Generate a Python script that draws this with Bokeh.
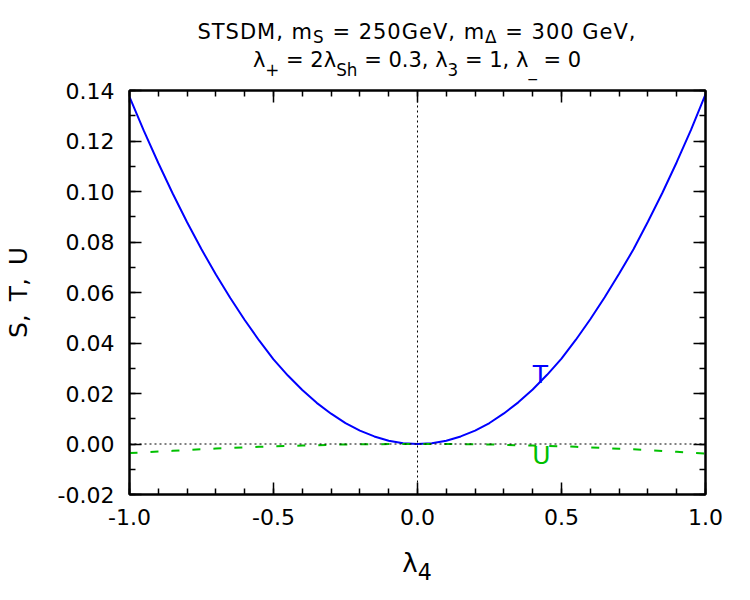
from bokeh.plotting import figure
from bokeh.layouts import column
from bokeh.models import (Range1d, SingleIntervalTicker, LinearAxis, PrintfTickFormatter,
                          CustomJSTickFormatter, Span, Label, ColumnDataSource, Div)
from bokeh.embed import file_html
from bokeh.resources import INLINE

# ---------------- data ----------------
lam4 = [-1.00, -0.95, -0.90, -0.85, -0.80, -0.75, -0.70, -0.65, -0.60, -0.55,
        -0.50, -0.45, -0.40, -0.35, -0.30, -0.25, -0.20, -0.15, -0.10, -0.05,
        0.00, 0.05, 0.10, 0.15, 0.20, 0.25, 0.30, 0.35, 0.40, 0.45,
        0.50, 0.55, 0.60, 0.65, 0.70, 0.75, 0.80, 0.85, 0.90, 0.95, 1.00]
T_vals = [0.1375, 0.1240, 0.1113, 0.0992, 0.0878, 0.0771, 0.0671, 0.0578, 0.0491, 0.0410,
          0.0335, 0.0271, 0.0214, 0.0163, 0.0120, 0.0083, 0.0053, 0.0030, 0.0013, 0.0003,
          0.0000, 0.0003, 0.0013, 0.0030, 0.0053, 0.0083, 0.0121, 0.0165, 0.0216, 0.0274,
          0.0338, 0.0413, 0.0494, 0.0581, 0.0674, 0.0771, 0.0880, 0.0994, 0.1116, 0.1245, 0.1385]
U_vals = [-0.0036, -0.0033, -0.0030, -0.0027, -0.0024, -0.0021, -0.0018, -0.0016, -0.0013, -0.0011,
          -0.0009, -0.0008, -0.0006, -0.0005, -0.0003, -0.0002, -0.0001, -0.0001, 0.0000, 0.0000,
          0.0000, 0.0000, 0.0000, -0.0001, -0.0001, -0.0002, -0.0003, -0.0005, -0.0006, -0.0008,
          -0.0009, -0.0011, -0.0014, -0.0016, -0.0019, -0.0021, -0.0024, -0.0028, -0.0031, -0.0034, -0.0038]

x_ticks_interval = 0.5
y_ticks_interval = 0.02
SUB1 = '<sub style="font-size:0.8em;line-height:0;vertical-align:-4px">{}</sub>'
SUB2 = '<sub style="font-size:0.8em;line-height:0;vertical-align:-9px">{}</sub>'
title_html = ('<span style="letter-spacing:1px">STSDM, m' + SUB1.format("S") + " = 250GeV, m"
              + SUB1.format("\u0394") + " = 300 GeV,</span><br>"
              "\u03bb" + SUB2.format("+") + " = 2\u03bb" + SUB2.format("Sh") + " = 0.3, \u03bb" + SUB2.format("3")
              + " = 1, \u03bb" + SUB2.format("_") + " = 0")
x_label_html = "\u03bb" + '<sub style="font-size:0.85em;line-height:0;vertical-align:-8px">4</sub>'
y_label = "S,\u2009 T,\u2009 U"

# ---------------- layout ----------------
W = 750
TOP_H = 76          # title strip
MAIN_TOP = 14       # border above the frame inside main figure
FL, FW, FH = 129, 576, 404
MAIN_BOTTOM = 56
BOT_H = 600 - TOP_H - MAIN_TOP - FH - MAIN_BOTTOM
XMIN, XMAX, YMIN, YMAX = -1.0, 1.0, -0.02, 0.14
FONT = "DejaVu Sans"
CX = FL + FW / 2     # horizontal centre of the frame

def html_strip(html, height, size, line_h, pad_top):
    inner = (f'<div style="margin-left:{2 * CX - W:.0f}px;width:{2 * (W - CX):.0f}px;text-align:center;'
             f'font-family:\'{FONT}\';font-size:{size}px;line-height:{line_h}px;color:black;'
             f'padding-top:{pad_top}px;white-space:nowrap;overflow:visible">{html}</div>')
    return Div(text=inner, width=W, height=height, margin=(0, 0, 0, 0),
               styles={"overflow": "visible"})

top = html_strip(title_html, TOP_H, 21, 28, 18)

p = figure(width=W, height=MAIN_TOP + FH + MAIN_BOTTOM, output_backend="svg", toolbar_location=None,
           x_range=Range1d(XMIN, XMAX), y_range=Range1d(YMIN, YMAX),
           min_border_left=FL, min_border_top=MAIN_TOP,
           min_border_right=W - FL - FW, min_border_bottom=MAIN_BOTTOM)
p.xgrid.visible = False
p.ygrid.visible = False
p.outline_line_color = "black"
p.outline_line_width = 2
p.background_fill_color = "white"
p.border_fill_color = None

def style_axis(ax, size="22px"):
    ax.major_tick_in = 12
    ax.major_tick_out = 0
    ax.minor_tick_in = 6
    ax.minor_tick_out = 0
    ax.axis_line_width = 2
    ax.axis_line_color = "black"
    ax.major_tick_line_color = "black"
    ax.minor_tick_line_color = "black"
    ax.major_tick_line_width = 1.5
    ax.minor_tick_line_width = 1.5
    ax.major_label_text_font = FONT
    ax.major_label_text_font_size = size
    ax.major_label_text_color = "black"
    ax.axis_label_text_font = FONT
    ax.axis_label_text_font_style = "normal"
    ax.axis_label_text_color = "black"

p.xaxis[0].ticker = SingleIntervalTicker(interval=x_ticks_interval, num_minor_ticks=5)
p.xaxis[0].formatter = PrintfTickFormatter(format="%.1f")
p.yaxis[0].ticker = SingleIntervalTicker(interval=y_ticks_interval, num_minor_ticks=2)
p.yaxis[0].formatter = PrintfTickFormatter(format="%.2f")
style_axis(p.xaxis[0])
style_axis(p.yaxis[0])
p.xaxis[0].major_label_standoff = 14
p.yaxis[0].major_label_standoff = 15
p.yaxis[0].axis_label = y_label
p.yaxis[0].axis_label_text_font_size = "25px"
p.yaxis[0].axis_label_standoff = 22

# mirror axes (ticks only, no labels)
for loc, interval, nminor in (("right", y_ticks_interval, 2), ("above", x_ticks_interval, 5)):
    ax = LinearAxis(ticker=SingleIntervalTicker(interval=interval, num_minor_ticks=nminor),
                    formatter=CustomJSTickFormatter(code="return ''"), major_label_standoff=0)
    style_axis(ax, "1px")
    p.add_layout(ax, loc)

# zero axes (dotted)
p.add_layout(Span(location=0, dimension="width", line_color="black", line_width=1, line_dash="2 3"))
p.add_layout(Span(location=0, dimension="height", line_color="black", line_width=1, line_dash="2 3"))

src = ColumnDataSource(dict(x=lam4, T=T_vals, U=U_vals))
p.line("x", "T", source=src, line_color="#0000ff", line_width=2)
p.line("x", "U", source=src, line_color="#00c000", line_width=2, line_dash="8 13")

# curve labels
p.add_layout(Label(x=0.427, y=0.0244, y_offset=8, text="T", text_color="#0000ff", text_font=FONT,
                   text_font_size="25px", text_align="center", text_baseline="alphabetic"))
p.add_layout(Label(x=0.43, y=-0.0077, y_offset=8, text="U", text_color="#00c000", text_font=FONT,
                   text_font_size="25px", text_align="center", text_baseline="alphabetic"))

bot = html_strip(x_label_html, BOT_H, 26, 26, 0)

layout = column(top, p, bot, spacing=0)
open("out.html", "w").write(file_html(layout, INLINE))
